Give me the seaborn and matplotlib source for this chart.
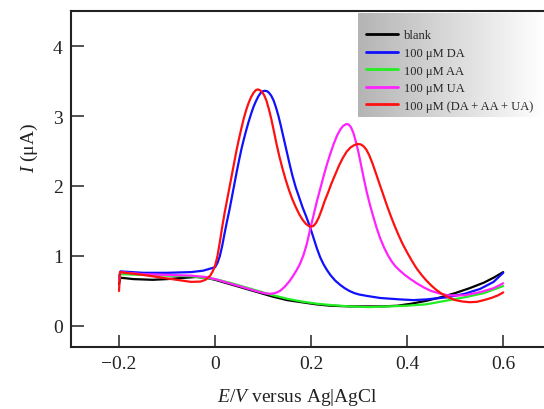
import numpy as np
import pandas as pd
import matplotlib
matplotlib.use("Agg")
import matplotlib.pyplot as plt
from matplotlib.lines import Line2D
import seaborn as sns

# ---- data (E in V, I in uA) ----
blank_e = [-0.2, -0.197, -0.17, -0.13, -0.1, -0.06, -0.04, -0.02, 0.0, 0.03, 0.06, 0.09,
           0.12, 0.15, 0.18, 0.21, 0.24, 0.28, 0.32, 0.35, 0.38, 0.41, 0.44, 0.47,
           0.5, 0.53, 0.56, 0.58, 0.6]
blank_i = [0.6, 0.69, 0.67, 0.66, 0.67, 0.69, 0.7, 0.69, 0.66, 0.6, 0.54, 0.48,
           0.42, 0.37, 0.34, 0.31, 0.29, 0.28, 0.28, 0.28, 0.29, 0.32, 0.36, 0.41,
           0.47, 0.54, 0.62, 0.69, 0.77]

da_e = [-0.2, -0.197, -0.15, -0.1, -0.05, -0.025, 0.0, 0.005, 0.01, 0.015, 0.02, 0.025,
        0.03, 0.035, 0.04, 0.045, 0.05, 0.055, 0.06, 0.065, 0.07, 0.075, 0.08, 0.085,
        0.09, 0.095, 0.1, 0.104, 0.108, 0.112, 0.117, 0.122, 0.127, 0.132, 0.137, 0.143,
        0.149, 0.155, 0.161, 0.168, 0.175, 0.182, 0.19, 0.198, 0.205, 0.212, 0.219, 0.226,
        0.233, 0.24, 0.25, 0.26, 0.27, 0.28, 0.29, 0.3, 0.316, 0.344, 0.385, 0.413,
        0.44, 0.483, 0.52, 0.552, 0.58, 0.6]
da_i = [0.7, 0.78, 0.76, 0.76, 0.77, 0.79, 0.84, 0.9, 1.0, 1.15, 1.33, 1.5,
        1.66, 1.84, 2.02, 2.2, 2.37, 2.53, 2.67, 2.8, 2.92, 3.03, 3.13, 3.21,
        3.28, 3.33, 3.355, 3.36, 3.355, 3.335, 3.29, 3.22, 3.12, 3.0, 2.86, 2.68,
        2.5, 2.32, 2.15, 1.98, 1.84, 1.7, 1.56, 1.41, 1.26, 1.11, 0.98, 0.88,
        0.8, 0.73, 0.65, 0.59, 0.54, 0.5, 0.47, 0.45, 0.43, 0.4, 0.38, 0.37,
        0.38, 0.41, 0.46, 0.53, 0.63, 0.76]

aa_e = [-0.2, -0.197, -0.15, -0.1, -0.05, 0.0, 0.03, 0.06, 0.09, 0.12, 0.15, 0.18,
        0.21, 0.24, 0.28, 0.32, 0.36, 0.4, 0.44, 0.48, 0.52, 0.56, 0.6]
aa_i = [0.65, 0.74, 0.73, 0.72, 0.71, 0.67, 0.62, 0.56, 0.5, 0.44, 0.39, 0.35,
        0.32, 0.3, 0.28, 0.27, 0.28, 0.29, 0.31, 0.36, 0.41, 0.47, 0.57]

ua_e = [-0.2, -0.197, -0.15, -0.1, -0.05, -0.02, 0.0, 0.03, 0.06, 0.09, 0.105, 0.115,
        0.125, 0.135, 0.145, 0.155, 0.163, 0.17, 0.177, 0.184, 0.191, 0.198, 0.205, 0.212,
        0.219, 0.226, 0.233, 0.24, 0.247, 0.254, 0.261, 0.267, 0.273, 0.278, 0.283, 0.288,
        0.293, 0.298, 0.304, 0.31, 0.316, 0.323, 0.33, 0.337, 0.344, 0.352, 0.36, 0.368,
        0.376, 0.385, 0.395, 0.405, 0.42, 0.435, 0.45, 0.465, 0.483, 0.5, 0.52, 0.55,
        0.58, 0.6]
ua_i = [0.66, 0.77, 0.74, 0.73, 0.72, 0.7, 0.67, 0.61, 0.55, 0.49, 0.465, 0.46,
        0.47, 0.5, 0.56, 0.64, 0.72, 0.8, 0.89, 1.01, 1.17, 1.38, 1.58, 1.78,
        1.96, 2.14, 2.31, 2.46, 2.6, 2.72, 2.81, 2.86, 2.885, 2.88, 2.84, 2.76,
        2.64, 2.5, 2.3, 2.1, 1.91, 1.72, 1.55, 1.39, 1.25, 1.12, 1.01, 0.92,
        0.85, 0.79, 0.73, 0.68, 0.61, 0.55, 0.5, 0.47, 0.44, 0.435, 0.44, 0.48,
        0.54, 0.61]

mix_e = [-0.2, -0.198, -0.15, -0.1, -0.05, -0.03, -0.02, -0.01, -0.005, 0.0, 0.005, 0.01,
         0.015, 0.02, 0.025, 0.03, 0.035, 0.04, 0.045, 0.05, 0.055, 0.06, 0.065, 0.07,
         0.075, 0.08, 0.085, 0.089, 0.093, 0.097, 0.102, 0.107, 0.112, 0.117, 0.122, 0.128,
         0.134, 0.14, 0.147, 0.154, 0.161, 0.168, 0.175, 0.182, 0.189, 0.195, 0.2, 0.205,
         0.21, 0.216, 0.222, 0.228, 0.235, 0.242, 0.25, 0.258, 0.266, 0.274, 0.282, 0.29,
         0.297, 0.303, 0.309, 0.315, 0.321, 0.328, 0.335, 0.342, 0.35, 0.358, 0.366, 0.374,
         0.382, 0.39, 0.4, 0.41, 0.42, 0.43, 0.44, 0.45, 0.46, 0.47, 0.485, 0.5,
         0.515, 0.53, 0.545, 0.56, 0.575, 0.59, 0.6]
mix_i = [0.5, 0.77, 0.73, 0.68, 0.63, 0.635, 0.66, 0.72, 0.78, 0.86, 1.0, 1.2,
         1.42, 1.62, 1.8, 1.98, 2.16, 2.34, 2.52, 2.68, 2.83, 2.97, 3.09, 3.19,
         3.27, 3.33, 3.37, 3.38, 3.37, 3.35, 3.3, 3.22, 3.1, 2.96, 2.8, 2.6,
         2.42, 2.26, 2.09, 1.94, 1.81, 1.7, 1.6, 1.52, 1.46, 1.43, 1.42, 1.43,
         1.47, 1.55, 1.66, 1.78, 1.9, 2.03, 2.16, 2.29, 2.4, 2.49, 2.55, 2.585,
         2.6, 2.595, 2.57, 2.52, 2.44, 2.32, 2.18, 2.04, 1.88, 1.72, 1.57, 1.43,
         1.3, 1.18, 1.05, 0.93, 0.82, 0.73, 0.65, 0.58, 0.52, 0.47, 0.41, 0.37,
         0.35, 0.34, 0.345, 0.37, 0.4, 0.44, 0.48]

labels = ["blank", "100 μM DA", "100 μM AA", "100 μM UA", "100 μM (DA + AA + UA)"]
colors = ["#000000", "#1010ff", "#22ee22", "#ff22ff", "#ff1010"]
xtick_vals = [-0.2, 0.0, 0.2, 0.4, 0.6]
xtick_text = ["\u22120.2", "0", "0.2", "0.4", "0.6"]
ytick_vals = [0, 1, 2, 3, 4]

series = [(blank_e, blank_i), (da_e, da_i), (aa_e, aa_i), (ua_e, ua_i), (mix_e, mix_i)]
df = pd.concat(
    [pd.DataFrame({"E": e, "I": i, "curve": lab}) for (e, i), lab in zip(series, labels)],
    ignore_index=True,
)

sns.set_style("ticks")
plt.rcParams["font.family"] = ["Liberation Serif", "DejaVu Serif"]
plt.rcParams["mathtext.fontset"] = "custom"
plt.rcParams["mathtext.rm"] = "Liberation Serif"
plt.rcParams["mathtext.it"] = "Liberation Serif:italic"

fig = plt.figure(figsize=(5.44, 4.10), dpi=100)
ax = fig.add_axes([71 / 544, 1 - 348 / 410, 1 - 71 / 544, 336 / 410])

sns.lineplot(data=df, x="E", y="I", hue="curve", hue_order=labels,
             palette=dict(zip(labels, colors)), sort=False, estimator=None,
             linewidth=1.6, legend=False, ax=ax)

ax.set_xlim(-0.3, 0.685)
ax.set_ylim(-0.3, 4.5)
ax.set_xticks(xtick_vals)
ax.set_xticklabels(xtick_text)
ax.set_yticks(ytick_vals)
ax.tick_params(direction="in", length=9, width=1.1, labelsize=14, pad=6, colors="#222222")
for side in ["left", "bottom", "top"]:
    ax.spines[side].set_linewidth(1.5)
    ax.spines[side].set_color("#222222")
ax.spines["right"].set_visible(False)

ax.set_xlabel(r"$E$/$V$ versus Ag|AgCl", fontsize=14, color="#222222")
ax.set_ylabel(r"$I$ (μA)", fontsize=14, color="#222222")
ax.xaxis.set_label_coords(0.478, -0.115)
ax.yaxis.set_label_coords(-0.065, 0.595)

# legend with grey gradient background
lax = fig.add_axes([358 / 544, 1 - 118 / 410, 1 - 358 / 544, 104 / 410], zorder=3)
grad = np.linspace(0.0, 1.0, 256).reshape(1, -1)
lax.imshow(grad, cmap=matplotlib.colors.LinearSegmentedColormap.from_list(
    "g", ["#b4b4b4", "#ffffff"]), aspect="auto", extent=(0, 1, 0, 1))
lax.set_axis_off()
handles = [Line2D([], [], color=c, lw=2) for c in colors]
lax.legend(handles, labels, loc="upper left", frameon=False, fontsize=9,
           handlelength=2.6, handletextpad=0.45, labelspacing=0.45,
           borderaxespad=0.9, bbox_to_anchor=(-0.045, 1.0))

fig.savefig("out.png", dpi=100)
